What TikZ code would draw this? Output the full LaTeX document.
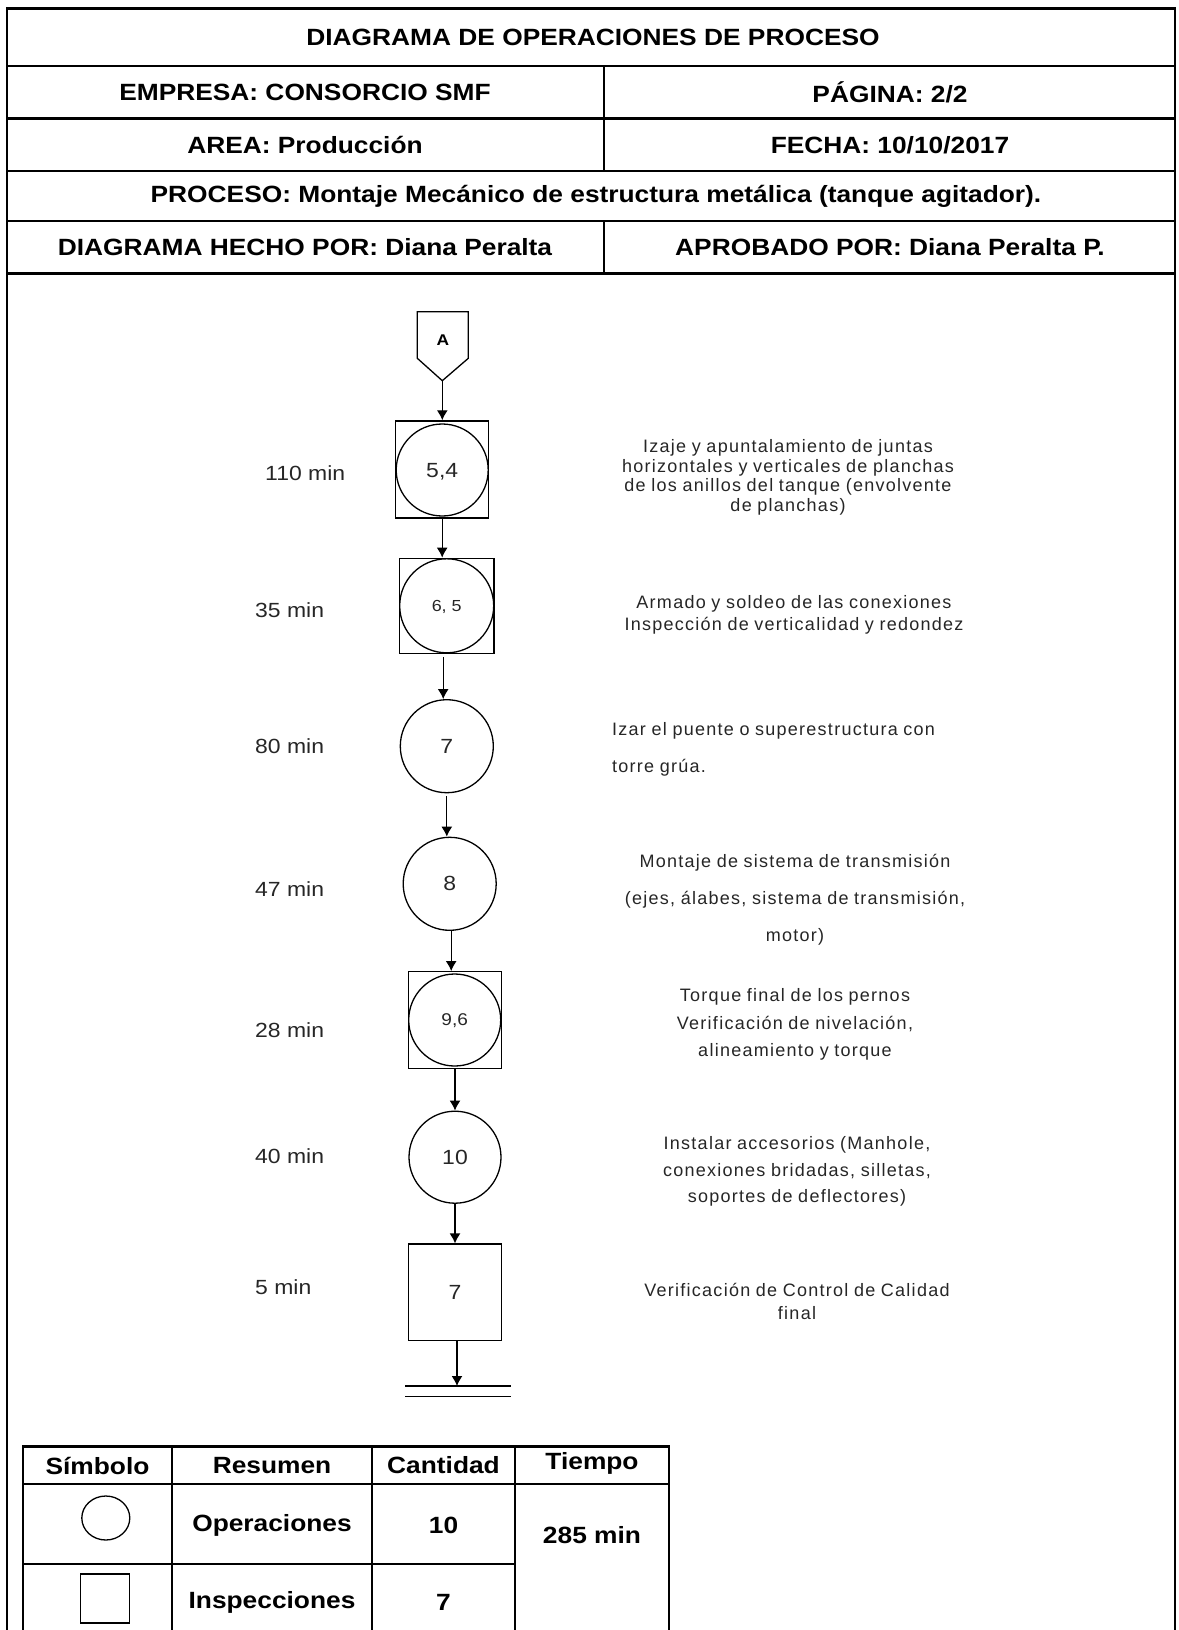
\documentclass[tikz,border=0pt]{standalone}
\usepackage{fontspec}
\setmainfont{Liberation Sans}
\newfontfamily\hdrfont[FakeStretch=1.12]{Liberation Sans}
\newfontfamily\descfont[LetterSpace=7,WordSpace=0.9]{Liberation Sans}
\usetikzlibrary{arrows.meta,calc,shapes.geometric}
\begin{document}
\begin{tikzpicture}[x=1pt,y=-1pt,
  frame/.style={line width=2.6pt, line cap=rect},
  tbl/.style={line width=2.4pt, line cap=rect},
  hdr/.style={font=\hdrfont\bfseries\fontsize{23.5}{28}\selectfont, inner sep=0pt},
  tm/.style={font=\hdrfont\fontsize{20.5}{24}\selectfont, anchor=west, inner sep=0pt, text=black!85},
  desc/.style={font=\descfont\fontsize{18}{#1}\selectfont, align=center, inner sep=0pt, text=black!85},
  opbox/.style={draw, line width=1.3pt, minimum width=93pt, minimum height=97pt, inner sep=0pt},
  opcirc/.style={draw, circle, line width=1.3pt, minimum size=92pt, inner sep=0pt,
    text depth=0pt, text=black!85, font=\hdrfont\fontsize{20.5}{24}\selectfont},
  flow/.style={line width=1.3pt, -{Latex[length=10pt,width=11pt]}},
  plain/.style={line width=1.3pt}
]
\useasboundingbox (0,0) rectangle (1178,1630);

% ---------- header block ----------
\draw[frame] (7,1632) -- (7,8.3) -- (1175,8.3) -- (1175,1632);
\foreach \yy in {66,118.5,171,221,273.3}
  \draw[frame] (7,\yy) -- (1175,\yy);
\draw[frame] (604,66) -- (604,171);
\draw[frame] (604,221) -- (604,273.3);

\node[hdr] (title) at (593,37.5) {DIAGRAMA DE OPERACIONES DE PROCESO};
\node[hdr] (empresa) at (305,92.5) {EMPRESA: CONSORCIO SMF};
\node[hdr] (pagina) at (890,92.5) {PÁGINA: 2/2};
\node[hdr] (area) at (305,145) {AREA: Producción};
\node[hdr] (fecha) at (890,145) {FECHA: 10/10/2017};
\node[hdr] (proceso) at (596,196) {PROCESO: Montaje Mecánico de estructura metálica (tanque agitador).};
\node[hdr] (hecho) at (305,247.5) {DIAGRAMA HECHO POR: Diana Peralta};
\node[hdr] (aprobado) at (890,247.5) {APROBADO POR: Diana Peralta P.};

% ---------- off-page connector ----------
\draw[plain] (417.3,311.7) -- (468.3,311.7) -- (468.3,358.3) -- (442.3,380.7) -- (417.3,358.3) -- cycle;
\coordinate (atip) at (442.3,380.7);
\node[font=\hdrfont\bfseries\fontsize{15.5}{18}\selectfont, inner sep=0pt] (alabel) at (442.8,340) {A};

% ---------- process symbols ----------
\node[opbox] (b1) at (442.2,469.4) {};
\node[opcirc] (c1) at (442.2,470) {5,4};

\node[opbox, minimum width=94.7pt, minimum height=95pt] (b2) at (446.7,605.8) {};
\node[opcirc, minimum size=94pt, font=\hdrfont\fontsize{16}{18}\selectfont] (c2) at (446.7,605.8) {6, 5};

\node[opcirc, minimum size=93pt] (c7) at (446.8,746.2) {7};
\node[opcirc, minimum size=93pt] (c8) at (449.7,883.8) {8};

\node[opbox, minimum width=93.4pt, minimum height=96.6pt] (b3) at (455,1020) {};
\node[opcirc, font=\hdrfont\fontsize{17}{20}\selectfont] (c3) at (454.7,1020) {9,6};

\node[opcirc] (c10) at (455,1157.2) {10};

\node[opbox, minimum width=93.4pt, minimum height=96.7pt, text=black!85,
      font=\hdrfont\fontsize{20.5}{24}\selectfont] (b7) at (455,1292.4) {7};

% ---------- end of process ----------
\coordinate (e1l) at (405,1386);
\coordinate (e1r) at (511,1386);
\coordinate (e2l) at (405,1396.7);
\coordinate (e2r) at (511,1396.7);
\draw[plain] (e1l) -- (e1r);
\draw[plain] (e2l) -- (e2r);

% ---------- connectors ----------
\draw[flow] (atip) -- (atip |- b1.north);
\draw[flow] (b1.south) -- (b1.south |- b2.north);
\draw[flow] ($(b2.south)+(-3.5,3)$) -- ($(b2.south |- c7.north)+(-3.5,0)$);
\draw[flow] ($(c7.south)+(0,3)$) -- (c7.south |- c8.north);
\draw[flow] ($(c8.south)+(1.5,0)$) -- ($(c8.south |- b3.north)+(1.5,0)$);
\draw[flow] (b3.south) -- (b3.south |- c10.north);
\draw[flow] (c10.south) -- (c10.south |- b7.north);
\draw[flow] ($(b7.south)+(2,0)$) -- ($(b7.south |- e1l)+(2,0)$);

% ---------- times ----------
\node[tm] (t1) at (265,473) {110 min};
\node[tm] (t2) at (255,610) {35 min};
\node[tm] (t3) at (255,746.5) {80 min};
\node[tm] (t4) at (255,889) {47 min};
\node[tm] (t5) at (255,1030) {28 min};
\node[tm] (t6) at (255,1156) {40 min};
\node[tm] (t7) at (255,1287) {5 min};

% ---------- descriptions ----------
\node[desc=19.5] (d1) at (788,477.5) {Izaje y apuntalamiento de juntas\\horizontales y verticales de planchas\\de los anillos del tanque (envolvente\\de planchas)};
\node[desc=22] (d2) at (794,614.5) {Armado y soldeo de las conexiones\\Inspección de verticalidad y redondez};
\node[desc=36.5, align=left, anchor=west] (d3) at (612,749.5) {Izar el puente o superestructura con\\torre grúa.};
\node[desc=37] (d4) at (795,899.5) {Montaje de sistema de transmisión\\(ejes, álabes, sistema de transmisión,\\motor)};
\node[desc=27.5] (d5) at (795,1024.5) {Torque final de los pernos\\Verificación de nivelación,\\alineamiento y torque};
\node[desc=26.5] (d6) at (797,1171.5) {Instalar accesorios (Manhole,\\conexiones bridadas, silletas,\\soportes de deflectores)};
\node[desc=23] (d7) at (797,1301) {Verificación de Control de Calidad\\final};

% ---------- summary table ----------
\draw[tbl] (23,1632) -- (23,1446.5) -- (669,1446.5) -- (669,1632);
\draw[tbl] (23,1484) -- (669,1484);
\draw[tbl] (23,1564) -- (515,1564);
\draw[tbl] (172,1446.5) -- (172,1632);
\draw[tbl] (372,1446.5) -- (372,1632);
\draw[tbl] (515,1446.5) -- (515,1632);

\node[hdr] (hsim) at (97.5,1465.5) {Símbolo};
\node[hdr] (hres) at (272,1465.5) {Resumen};
\node[hdr] (hcan) at (443.5,1465.5) {Cantidad};
\node[hdr] (htie) at (592,1463) {Tiempo};
\node[draw, ellipse, line width=1.3pt, minimum width=48pt, minimum height=44pt, inner sep=0pt] (symop) at (105.8,1518) {};
\node[hdr] (rop) at (272,1525) {Operaciones};
\node[hdr] (nop) at (443.5,1525) {10};
\node[hdr] (ttot) at (592,1535) {285 min};
\node[draw, line width=1.3pt, minimum width=49pt, minimum height=49pt, inner sep=0pt] (symin) at (104.7,1598.4) {};
\node[hdr] (rin) at (272,1602) {Inspecciones};
\node[hdr] (nin) at (443.5,1602) {7};
\end{tikzpicture}
\end{document}
